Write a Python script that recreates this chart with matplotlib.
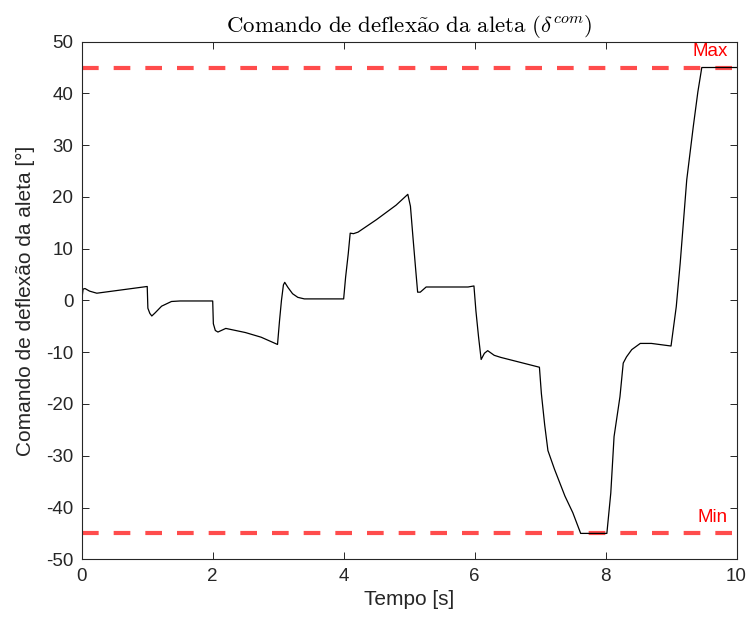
import numpy as np
import matplotlib
matplotlib.use("Agg")
import matplotlib.pyplot as plt

plt.rcParams['font.family'] = ['Liberation Sans', 'DejaVu Sans']
plt.rcParams['mathtext.fontset'] = 'cm'
plt.rcParams['axes.unicode_minus'] = False

# Deflection command (time [s], value [deg])
t = [0.0, 0.02, 0.05, 0.12, 0.23, 1.0, 1.01, 1.04, 1.07, 1.12, 1.22, 1.37, 1.5,
     2.0, 2.01, 2.04, 2.08, 2.2, 2.5, 2.74, 2.99,
     3.02, 3.05, 3.08, 3.1, 3.15, 3.22, 3.3, 3.4,
     4.0, 4.03, 4.07, 4.1, 4.15, 4.22, 4.5, 4.8, 4.98,
     5.02, 5.06, 5.1, 5.13, 5.17, 5.26, 5.9, 5.99,
     6.02, 6.06, 6.1, 6.15, 6.2, 6.3, 6.4, 6.99,
     7.02, 7.07, 7.12, 7.22, 7.38, 7.5, 7.62,
     8.02, 8.08, 8.13, 8.22, 8.27, 8.32, 8.4, 8.53, 8.7, 9.0,
     9.08, 9.14, 9.24, 9.34, 9.41, 9.47, 10.0]
delta_com = [0.0, 2.2, 2.3, 1.8, 1.4, 2.7, -1.5, -2.5, -3.0, -2.4, -1.1, -0.2, -0.1,
             -0.1, -4.5, -5.8, -6.1, -5.4, -6.2, -7.1, -8.5,
             -4.0, 0.0, 3.0, 3.5, 2.5, 1.3, 0.6, 0.3,
             0.3, 4.5, 9.0, 13.0, 12.9, 13.2, 15.6, 18.4, 20.5,
             18.2, 12.0, 6.0, 1.6, 1.6, 2.6, 2.6, 2.8,
             -2.0, -7.0, -11.4, -10.2, -9.7, -10.6, -11.0, -12.9,
             -18.0, -24.0, -29.0, -32.6, -37.8, -41.0, -45.0,
             -45.0, -37.2, -26.3, -18.6, -12.1, -10.9, -9.5, -8.3, -8.3, -8.8,
             -1.2, 7.2, 23.3, 33.6, 40.3, 45.0, 45.0]

delta_max = 45
delta_min = -45
x_ticks = [0, 2, 4, 6, 8, 10]
y_ticks = [-50, -40, -30, -20, -10, 0, 10, 20, 30, 40, 50]

fig = plt.figure(figsize=(7.5, 6.24), dpi=100)
ax = fig.add_axes([0.109, 0.1037, 0.873, 0.8296])

ax.axhline(delta_max, color='red', alpha=0.7, lw=3, dashes=(4, 3.6))
ax.axhline(delta_min, color='red', alpha=0.7, lw=3, dashes=(4, 3.6))
ax.plot(t, delta_com, color='black', lw=0.9)

ax.text(9.87, 47.2, 'Max', color='red', fontsize=13.5, ha='right', va='baseline')
ax.text(9.87, -42.8, 'Min', color='red', fontsize=13.5, ha='right', va='baseline')

ax.set_xlim(0, 10)
ax.set_ylim(-50, 50)
ax.set_xticks(x_ticks)
ax.set_yticks(y_ticks)
ax.tick_params(direction='in', length=5, width=0.7, top=True, right=True,
               labelsize=13.5, colors='#262626', pad=6)
for s in ax.spines.values():
    s.set_color('#262626')
    s.set_linewidth(0.8)

ax.set_xlabel('Tempo [s]', fontsize=15, color='#262626', labelpad=4)
ax.set_ylabel('Comando de deflexão da aleta [°]', fontsize=15, color='#262626', labelpad=8)
ax.set_title(r'$\mathrm{Comando\ de\ deflex\tilde{a}o\ da\ aleta\ }(\delta^{com})$',
             fontsize=16.5, pad=7)

fig.savefig('out.png', dpi=100)
